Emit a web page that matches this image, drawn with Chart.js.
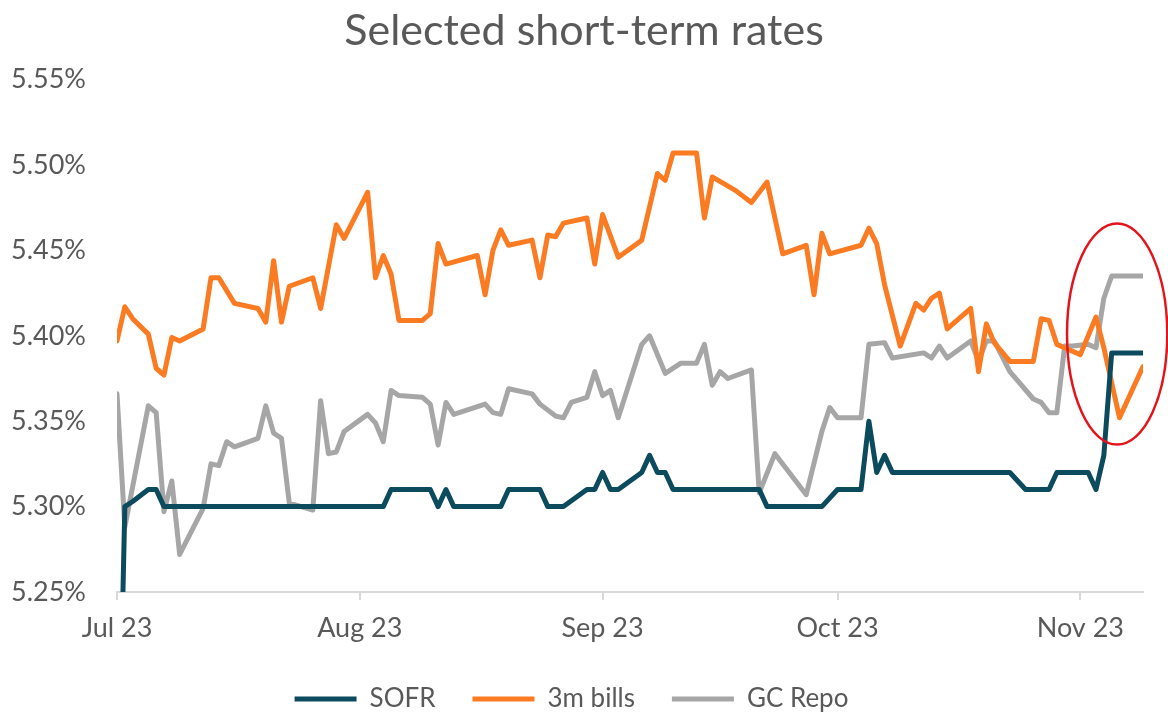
<!DOCTYPE html>
<html>
<head>
<meta charset="utf-8">
<title>Selected short-term rates</title>
<script src="https://cdn.jsdelivr.net/npm/chart.js@4.4.0/dist/chart.umd.min.js"></script>
<style>
  html, body { margin: 0; padding: 0; background: #fff; }
  #wrap { width: 1168px; height: 713px; position: relative; }
</style>
</head>
<body>
<div id="wrap"><canvas id="ratesChart"></canvas></div>
<script>
// x values are calendar days counted from the first month tick (Jul 23)
const monthTicks = [0, 31, 62, 92, 123];
const monthLabels = ["Jul 23", "Aug 23", "Sep 23", "Oct 23", "Nov 23"];

const sofrDays = [0, 1, 2, 4, 5, 6, 34, 35, 40, 41, 42, 43, 49, 50, 54, 55, 57, 60, 61, 62, 63, 64, 67, 68, 69, 70, 71, 82, 83, 90, 92, 95, 96, 97, 98, 99, 114, 116, 119, 120, 124, 125, 126, 127, 131];
const sofrRates = [5.09, 5.30, 5.303, 5.31, 5.31, 5.30, 5.30, 5.31, 5.31, 5.30, 5.31, 5.30, 5.30, 5.31, 5.31, 5.30, 5.30, 5.31, 5.31, 5.32, 5.31, 5.31, 5.32, 5.33, 5.32, 5.32, 5.31, 5.31, 5.30, 5.30, 5.31, 5.31, 5.35, 5.32, 5.33, 5.32, 5.32, 5.31, 5.31, 5.32, 5.32, 5.31, 5.33, 5.39, 5.39];

const billDays = [0, 1, 2, 4, 5, 6, 7, 8, 11, 12, 13, 15, 18, 19, 20, 21, 22, 25, 26, 28, 29, 32, 33, 34, 35, 36, 39, 40, 41, 42, 46, 47, 48, 49, 50, 53, 54, 55, 56, 57, 60, 61, 62, 64, 67, 69, 70, 71, 74, 75, 76, 79, 81, 83, 85, 88, 89, 90, 91, 95, 96, 97, 98, 100, 102, 103, 104, 105, 106, 109, 110, 111, 112, 114, 117, 118, 119, 120, 122, 123, 125, 126, 128, 131];
const billRates = [5.397, 5.417, 5.41, 5.401, 5.381, 5.377, 5.399, 5.397, 5.404, 5.434, 5.434, 5.419, 5.416, 5.408, 5.444, 5.408, 5.429, 5.434, 5.416, 5.465, 5.457, 5.484, 5.434, 5.447, 5.436, 5.409, 5.409, 5.413, 5.454, 5.442, 5.447, 5.424, 5.45, 5.462, 5.453, 5.456, 5.434, 5.459, 5.458, 5.466, 5.469, 5.442, 5.471, 5.446, 5.456, 5.495, 5.491, 5.507, 5.507, 5.469, 5.493, 5.485, 5.478, 5.49, 5.448, 5.453, 5.424, 5.46, 5.448, 5.453, 5.463, 5.454, 5.43, 5.394, 5.419, 5.415, 5.422, 5.425, 5.404, 5.416, 5.379, 5.407, 5.396, 5.385, 5.385, 5.41, 5.409, 5.395, 5.391, 5.389, 5.411, 5.393, 5.352, 5.382];

const repoDays = [0, 1, 4, 5, 6, 7, 8, 11, 12, 13, 14, 15, 18, 19, 20, 21, 22, 25, 26, 27, 28, 29, 32, 33, 34, 35, 36, 39, 40, 41, 42, 43, 47, 48, 49, 50, 53, 54, 56, 57, 58, 60, 61, 62, 63, 64, 67, 68, 70, 72, 74, 75, 76, 77, 78, 81, 82, 84, 88, 90, 91, 92, 95, 96, 98, 99, 103, 104, 105, 106, 109, 110, 111, 112, 114, 117, 118, 119, 120, 121, 122, 124, 125, 126, 127, 131];
const repoRates = [5.366, 5.288, 5.359, 5.355, 5.297, 5.315, 5.272, 5.299, 5.325, 5.324, 5.338, 5.335, 5.34, 5.359, 5.343, 5.34, 5.302, 5.298, 5.362, 5.331, 5.332, 5.344, 5.354, 5.349, 5.338, 5.368, 5.365, 5.364, 5.36, 5.336, 5.361, 5.354, 5.36, 5.355, 5.354, 5.369, 5.366, 5.36, 5.353, 5.352, 5.361, 5.364, 5.379, 5.365, 5.368, 5.352, 5.395, 5.40, 5.378, 5.384, 5.384, 5.395, 5.371, 5.379, 5.375, 5.38, 5.308, 5.331, 5.307, 5.344, 5.358, 5.352, 5.352, 5.395, 5.396, 5.387, 5.39, 5.387, 5.394, 5.387, 5.397, 5.385, 5.397, 5.397, 5.379, 5.363, 5.361, 5.355, 5.355, 5.394, 5.394, 5.395, 5.393, 5.422, 5.435, 5.435];

// red ring drawn around the early-November move (centre and radii in data units)
const ringCentre = [127.7, 5.401];
const ringRadii = [6.4, 0.0647];

const textColor = "#595959";
Chart.defaults.font.family = "Lato";

function points(days, rates) {
    return days.map((d, i) => ({ x: d, y: rates[i] }));
}

const ringPlugin = {
    id: "ring",
    afterLayout(chart) {
        // centre the title on the whole canvas, not just on the padded area
        chart.titleBlock.left = 0;
        chart.titleBlock.right = chart.width;
    },
    afterDatasetsDraw(chart) {
        const { ctx, scales: { x, y } } = chart;
        const cx = x.getPixelForValue(ringCentre[0]);
        const cy = y.getPixelForValue(ringCentre[1]);
        const rx = x.getPixelForValue(ringCentre[0] + ringRadii[0]) - cx;
        const ry = cy - y.getPixelForValue(ringCentre[1] + ringRadii[1]);
        ctx.save();
        ctx.beginPath();
        ctx.ellipse(cx, cy, rx, ry, 0, 0, Math.PI * 2);
        ctx.strokeStyle = "#e3141b";
        ctx.lineWidth = 2.5;
        ctx.stroke();
        ctx.restore();
    }
};

function lineSet(label, data, color) {
    return {
        label: label,
        data: data,
        borderColor: color,
        backgroundColor: color,
        borderWidth: 5,
        pointRadius: 0,
        pointStyle: "line",
        tension: 0,
        borderJoinStyle: "round",
        borderCapStyle: "round"
    };
}

new Chart(document.getElementById("ratesChart"), {
    type: "line",
    data: {
        datasets: [
            lineSet("SOFR", points(sofrDays, sofrRates), "#0c4a5d"),
            lineSet("3m bills", points(billDays, billRates), "#fb7b22"),
            lineSet("GC Repo", points(repoDays, repoRates), "#a6a6a6")
        ]
    },
    options: {
        responsive: true,
        maintainAspectRatio: false,
        animation: false,
        layout: { padding: { left: 0, right: 25, top: 0, bottom: -9 } },
        scales: {
            x: {
                type: "linear",
                min: 0,
                max: 131,
                afterBuildTicks: scale => {
                    scale.ticks = monthTicks.map(v => ({ value: v }));
                },
                afterFit: scale => { scale.height = 57; },
                ticks: {
                    autoSkip: false,
                    maxRotation: 0,
                    padding: 12,
                    color: textColor,
                    font: { size: 27 },
                    callback: (value, index) => monthLabels[index]
                },
                grid: {
                    drawOnChartArea: false,
                    drawTicks: true,
                    tickLength: 8,
                    color: "#d9d9d9",
                    lineWidth: 2
                },
                border: { display: true, color: "#d9d9d9", width: 2 }
            },
            y: {
                min: 5.25,
                max: 5.55,
                afterFit: scale => { scale.width = 117; },
                ticks: {
                    stepSize: 0.05,
                    padding: 23,
                    color: textColor,
                    font: { size: 27 },
                    callback: value => value.toFixed(2) + "%"
                },
                grid: { display: false },
                border: { display: false }
            }
        },
        plugins: {
            title: {
                display: true,
                text: "Selected short-term rates",
                color: textColor,
                font: { size: 43, weight: "normal" },
                padding: { top: 5, bottom: 23 }
            },
            legend: {
                position: "bottom",
                labels: {
                    usePointStyle: true,
                    pointStyleWidth: 62,
                    boxHeight: 6,
                    padding: 37,
                    color: textColor,
                    font: { size: 26 }
                }
            },
            tooltip: { enabled: false }
        }
    },
    plugins: [ringPlugin]
});
</script>
</body>
</html>
